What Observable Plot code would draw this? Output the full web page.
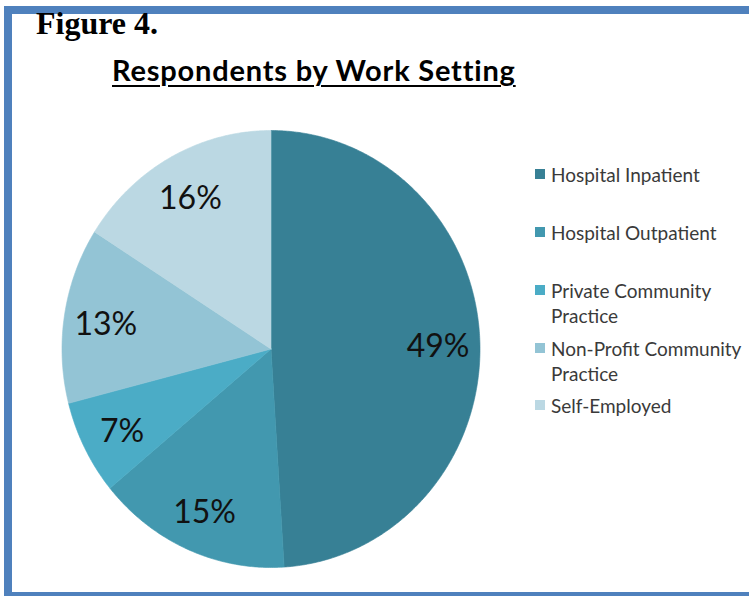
<!DOCTYPE html>
<html>
<head>
<meta charset="utf-8">
<script src="https://cdn.jsdelivr.net/npm/d3@7"></script>
<script src="https://cdn.jsdelivr.net/npm/@observablehq/plot@0.6"></script>
<style>
  html, body { margin: 0; padding: 0; background: #fff; }
  #page { position: relative; width: 749px; height: 596px; overflow: hidden; background: #fff; }
  #frame { position: absolute; left: 4px; top: 6px; width: 800px; height: 594px; box-sizing: border-box; border: 8px solid #4F81BD; }
  #fig { position: absolute; left: 36px; top: 5px; font-family: "Liberation Serif", "Times New Roman", serif; font-weight: bold; font-size: 32px; color: #000; }
  #title { position: absolute; left: 112px; top: 52px; font-family: Lato, sans-serif; font-weight: bold; font-size: 29px; letter-spacing: 0.8px; color: #000; text-decoration: underline; text-decoration-thickness: 2px; text-underline-offset: 4px; }
  #chart { position: absolute; left: 0; top: 0; }
  #legend { position: absolute; left: 535px; top: 160px; font-family: Lato, sans-serif; font-size: 19px; color: #3a3a3a; }
  .item { position: absolute; left: 0; width: 213px; }
  .sw { position: absolute; left: 0; top: 7px; width: 10px; height: 10px; }
  .lab { margin-left: 16px; line-height: 25px; }
</style>
</head>
<body>
<div id="page">
  <div id="frame"></div>
  <div id="chart"></div>
  <div id="fig">Figure 4.</div>
  <div id="title">Respondents by Work Setting</div>
  <div id="legend"></div>
</div>
<script>
const categories = ["Hospital Inpatient", "Hospital Outpatient", "Private Community Practice", "Non-Profit Community Practice", "Self-Employed"];
const values = [49, 15, 7, 13, 16];
const colors = ["#378095", "#4298AF", "#4BACC6", "#93C4D5", "#BBD8E3"];

const total = d3.sum(values);
const wedgePoints = [];
const labels = [];
let acc = 0;
categories.forEach((cat, i) => {
  const a0 = acc / total * 2 * Math.PI;
  acc += values[i];
  const a1 = acc / total * 2 * Math.PI;
  wedgePoints.push({cat, x: 0, y: 0});
  const n = Math.max(2, Math.ceil((a1 - a0) / (Math.PI / 360)));
  for (let k = 0; k <= n; k++) {
    const a = a0 + (a1 - a0) * k / n;
    wedgePoints.push({cat, x: Math.sin(a), y: Math.cos(a)});
  }
  wedgePoints.push({cat, x: 0, y: 0});
  const m = (a0 + a1) / 2;
  labels.push({cat, x: 0.8 * Math.sin(m), y: 0.8 * Math.cos(m), text: values[i] + "%"});
});

const chart = Plot.plot({
  width: 749,
  height: 596,
  margin: 0,
  style: {background: "transparent"},
  x: {domain: [-1, 1], range: [61.5, 479.5], axis: null},
  y: {domain: [-1, 1], range: [567, 130], axis: null},
  color: {domain: categories, range: colors},
  marks: [
    Plot.line(wedgePoints, {x: "x", y: "y", z: "cat", fill: "cat", stroke: "cat", strokeWidth: 0.6, curve: "linear"}),
    Plot.text(labels, {x: "x", y: "y", text: "text", dy: 3, fontSize: 32, fontFamily: "Lato, sans-serif", fill: "#111"})
  ]
});
document.getElementById("chart").appendChild(chart);

const legendRows = [14, 72, 130, 188, 245];
const legend = document.getElementById("legend");
categories.forEach((cat, i) => {
  const item = document.createElement("div");
  item.className = "item";
  item.style.top = (legendRows[i] - 12) + "px";
  item.innerHTML = `<div class="sw" style="background:${colors[i]}"></div><div class="lab">${cat}</div>`;
  legend.appendChild(item);
});
</script>
</body>
</html>
